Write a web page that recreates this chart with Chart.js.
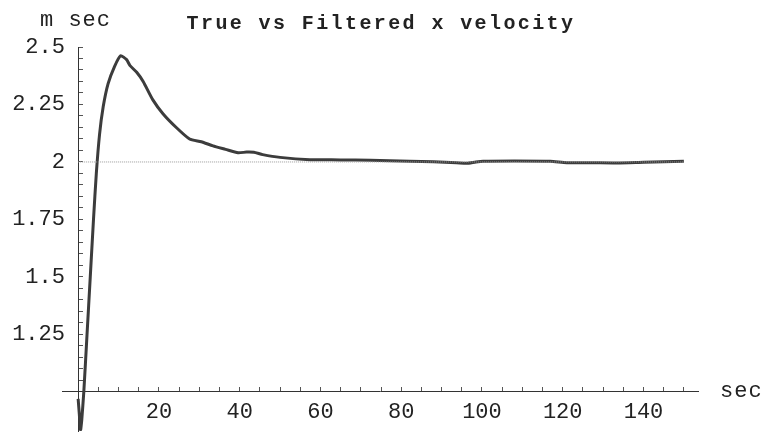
<!DOCTYPE html>
<html>
<head>
<meta charset="utf-8">
<title>True vs Filtered x velocity</title>
<script src="https://cdn.jsdelivr.net/npm/chart.js@4.4.1/dist/chart.umd.min.js"></script>
<style>
    html, body { margin: 0; padding: 0; background: #ffffff; }
    #wrap { width: 762px; height: 434px; position: relative; }
</style>
</head>
<body>
<div id="wrap"><canvas id="velocityChart"></canvas></div>
<script>
const timeSec = [0, 0.3, 0.6, 0.9, 1.4, 2.2, 3.0, 3.8, 4.5, 5.3, 6.2, 7.4, 9.0, 10.5,
    12.0, 12.8, 14.5, 16.1, 18.5, 21.0, 24.3, 27.6, 30.5, 33.4, 36.5, 39.6, 41.7, 43.5,
    45.7, 50, 57.4, 65, 72.3, 82.1, 88, 93.7, 96.2, 98.5, 100.3, 108, 116.9, 121, 127,
    133.4, 140, 145, 150];
const filteredVel = [0.97, 0.9, 0.835, 0.88, 1.0, 1.25, 1.5, 1.75, 1.95, 2.12, 2.24, 2.34, 2.415, 2.462,
    2.445, 2.42, 2.39, 2.35, 2.27, 2.21, 2.15, 2.10, 2.088, 2.07, 2.055, 2.04, 2.043, 2.042,
    2.032, 2.02, 2.01, 2.009, 2.007, 2.003, 2.001, 1.997, 1.994, 2.0, 2.003, 2.004, 2.003, 1.997, 1.997,
    1.996, 1.999, 2.001, 2.003];
const trueTime = [0, 150];
const trueVel = [2, 2];
const xTickLabels = [20, 40, 60, 80, 100, 120, 140];
const yTickLabels = [1.25, 1.5, 1.75, 2, 2.25, 2.5];

const monoFont = "'Liberation Mono', 'DejaVu Sans Mono', monospace";

function toPoints(xs, ys) {
    return xs.map((x, i) => ({ x, y: ys[i] }));
}

function hasLabel(list, value) {
    return list.some((v) => Math.abs(v - value) < 1e-6);
}

// title and axis captions, Mathematica style
const captions = {
    id: 'captions',
    afterDraw(chart) {
        const ctx = chart.ctx;
        ctx.save();
        ctx.fillStyle = '#222';
        ctx.textBaseline = 'alphabetic';
        ctx.font = 'bold 20px ' + monoFont;
        ctx.letterSpacing = '2.4px';
        ctx.textAlign = 'center';
        ctx.fillText('True vs Filtered x velocity', 381, 29);
        ctx.letterSpacing = '1px';
        ctx.font = '22px ' + monoFont;
        ctx.textAlign = 'left';
        ctx.fillText('m sec', 40, 26);
        ctx.fillText('sec', 720, 397);
        ctx.restore();
    }
};

new Chart(document.getElementById('velocityChart'), {
    type: 'scatter',
    data: {
        datasets: [{
            label: 'True',
            data: toPoints(trueTime, trueVel),
            showLine: true,
            borderColor: '#9a9a9a',
            borderWidth: 1,
            borderDash: [1, 1],
            pointRadius: 0
        }, {
            label: 'Filtered',
            data: toPoints(timeSec, filteredVel),
            showLine: true,
            borderColor: '#3c3c3c',
            borderWidth: 3,
            pointRadius: 0,
            tension: 0.2
        }]
    },
    options: {
        responsive: true,
        maintainAspectRatio: false,
        animation: false,
        layout: {
            autoPadding: false,
            padding: { left: 62, right: 64, top: 47, bottom: 3 }
        },
        plugins: {
            legend: { display: false },
            tooltip: { enabled: false }
        },
        scales: {
            x: {
                type: 'linear',
                min: -4,
                max: 153.5,
                position: { y: 1 },
                afterBuildTicks: (scale) => {
                    scale.ticks = scale.ticks.filter((t) => t.value > 0);
                },
                border: { display: true, color: '#333', width: 1 },
                grid: {
                    drawOnChartArea: false,
                    drawTicks: true,
                    tickLength: -5,
                    tickWidth: 1,
                    tickColor: '#555'
                },
                ticks: {
                    stepSize: 5,
                    includeBounds: false,
                    autoSkip: false,
                    maxRotation: 0,
                    padding: 12,
                    color: '#222',
                    font: { family: monoFont, size: 22 },
                    callback: (value) => hasLabel(xTickLabels, value) ? String(value) : ''
                }
            },
            y: {
                type: 'linear',
                min: 0.83,
                max: 2.5,
                position: { x: 0 },
                afterBuildTicks: (scale) => {
                    scale.ticks = scale.ticks.filter((t) => t.value > 1.01);
                },
                border: { display: true, color: '#333', width: 1 },
                grid: {
                    drawOnChartArea: false,
                    drawTicks: true,
                    tickLength: -5,
                    tickWidth: 1,
                    tickColor: '#555'
                },
                ticks: {
                    stepSize: 0.05,
                    includeBounds: false,
                    autoSkip: false,
                    padding: 0,
                    color: '#222',
                    font: { family: monoFont, size: 22, lineHeight: 0.2 },
                    // trailing space keeps the label clear of the axis line
                    callback: (value) => hasLabel(yTickLabels, value) ? String(value) + ' ' : ''
                }
            }
        }
    },
    plugins: [captions]
});
</script>
</body>
</html>
